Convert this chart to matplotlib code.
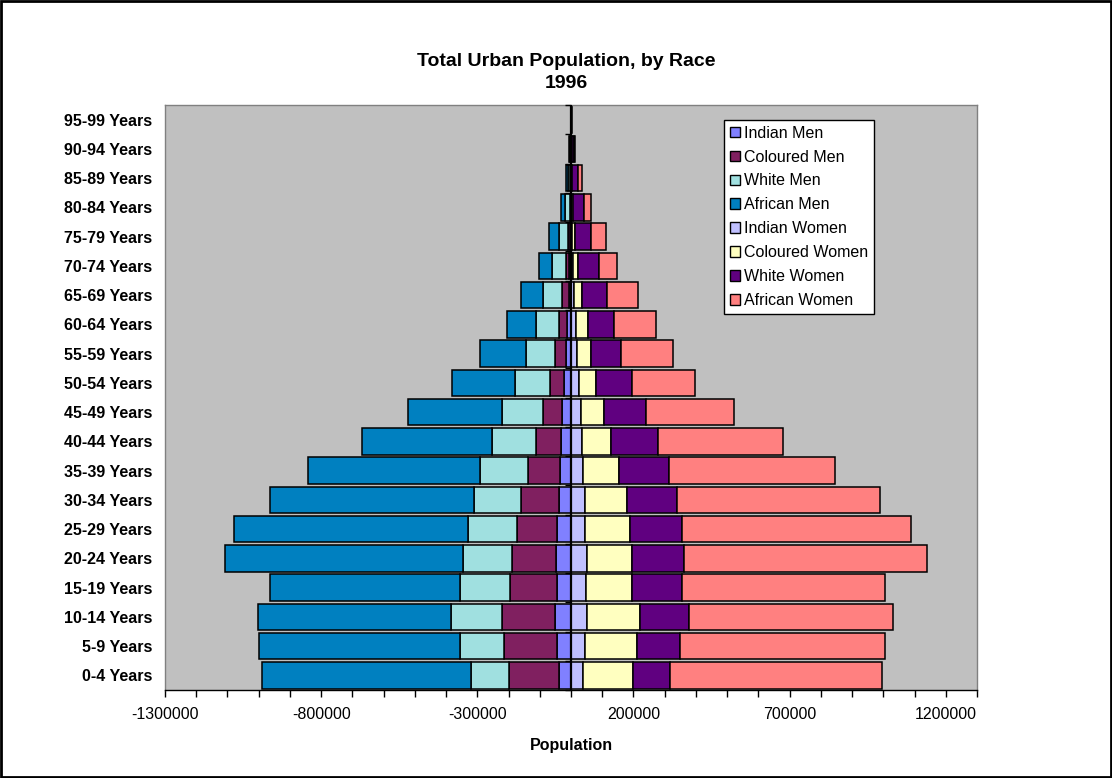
import numpy as np
import matplotlib
matplotlib.use("Agg")
import matplotlib.pyplot as plt
from matplotlib.patches import Rectangle
from matplotlib.ticker import FixedLocator, FuncFormatter

plt.rcParams['font.family'] = ['Liberation Sans', 'DejaVu Sans']

# age groups, bottom to top
ages = ["0-4 Years", "5-9 Years", "10-14 Years", "15-19 Years", "20-24 Years",
        "25-29 Years", "30-34 Years", "35-39 Years", "40-44 Years", "45-49 Years",
        "50-54 Years", "55-59 Years", "60-64 Years", "65-69 Years", "70-74 Years",
        "75-79 Years", "80-84 Years", "85-89 Years", "90-94 Years", "95-99 Years"]

# values in thousands
indian_men = [40, 46, 50, 46, 49, 44, 40, 36.5, 32, 28, 21, 15, 13, 7.5, 5, 3, 1.5, 1, 0.5, 0.2]
coloured_men = [160, 168, 170, 148, 139, 129, 119, 102.5, 81, 63, 47, 37.5, 27, 20, 10, 5.5, 3, 2, 1, 0.3]
white_men = [121, 140, 164, 160, 158, 156, 151, 151, 139, 130, 111, 92, 72, 62, 46, 30, 16, 8, 2, 0.5]
african_men = [668, 646, 619, 611, 762, 749, 653, 552, 418, 300, 201, 147, 94, 69, 43, 31, 12.5, 4, 1.5, 0.5]

indian_women = [40, 46, 51, 48, 51, 46, 44, 40, 36, 33, 27, 19, 16, 8.5, 5, 3, 1.5, 1, 0.5, 0.2]
coloured_women = [158, 165, 170, 148, 145, 144, 136, 115, 93, 73, 52, 44, 37, 27, 19, 11, 5, 2, 1.5, 0.3]
white_women = [120, 137, 157, 158, 167, 165, 158, 160, 150, 134, 116, 98, 85, 80, 66, 50, 36, 18, 8, 1]
african_women = [677, 658, 652, 652, 777, 734, 651, 529, 399, 281, 203, 164, 135, 98, 58, 49, 21, 13, 4, 1]

men = [("Indian Men", indian_men, "#8080FF"),
       ("Coloured Men", coloured_men, "#802060"),
       ("White Men", white_men, "#A0E0E0"),
       ("African Men", african_men, "#0080C0")]
women = [("Indian Women", indian_women, "#C0C0FF"),
         ("Coloured Women", coloured_women, "#FFFFC0"),
         ("White Women", white_women, "#600080"),
         ("African Women", african_women, "#FF8080")]

fig = plt.figure(figsize=(11.12, 7.78), dpi=100)
ax = fig.add_axes([165 / 1112, 1 - 690 / 778, 812 / 1112, 585 / 778])
ax.set_facecolor("#C0C0C0")

y = np.arange(len(ages))
h = 0.91

# men go left from zero
left = np.zeros(len(ages))
for name, vals, col in men:
    v = -np.array(vals) * 1000
    ax.barh(y, v, left=left, height=h, color=col, edgecolor="black", linewidth=1.1, label=name)
    left = left + v

# women go right
left = np.zeros(len(ages))
for name, vals, col in women:
    v = np.array(vals) * 1000
    ax.barh(y, v, left=left, height=h, color=col, edgecolor="black", linewidth=1.1, label=name)
    left = left + v

# category axis at zero, with tick marks between categories
ax.axvline(0, color="black", lw=1.6, zorder=5)
bounds = np.arange(len(ages) + 1) - 0.5
ax.plot(np.zeros(len(bounds)), bounds, linestyle="none", marker=0,
        markersize=4, mew=1, color="black", zorder=5, clip_on=False)

ax.set_xlim(-1300000, 1300000)
ax.set_ylim(-0.5, len(ages) - 0.5)

ax.xaxis.set_major_locator(FixedLocator(np.arange(-1300000, 1300001, 500000)))
ax.xaxis.set_minor_locator(FixedLocator(np.arange(-1300000, 1300001, 100000)))
ax.xaxis.set_major_formatter(FuncFormatter(lambda v, p: "%d" % v))
ax.tick_params(axis="x", which="both", length=5, width=1, color="black",
               labelsize=11.5, pad=7)
ax.set_yticks(y)
ax.set_yticklabels(ages, fontweight="bold", fontsize=11.5)
ax.tick_params(axis="y", length=0, pad=9)

for s in ["top", "right", "left"]:
    ax.spines[s].set_color("#808080")
    ax.spines[s].set_linewidth(1)
ax.spines["bottom"].set_color("black")
ax.spines["bottom"].set_linewidth(1)

ax.set_xlabel("Population", fontweight="bold", fontsize=11.5, labelpad=12)

fig.text(566 / 1112, 1 - 61 / 778, "Total Urban Population, by Race", ha="center", va="center",
         fontsize=14, fontweight="bold")
fig.text(566 / 1112, 1 - 84 / 778, "1996", ha="center", va="center",
         fontsize=14, fontweight="bold")

leg = ax.legend(loc="upper left", bbox_to_anchor=((724 - 165) / 812, (690 - 120) / 585),
                fontsize=11.5, frameon=True, fancybox=False, framealpha=1,
                edgecolor="black", handlelength=0.65, handleheight=0.65,
                handletextpad=0.25, labelspacing=0.56, borderpad=0.35, borderaxespad=0)
leg.get_frame().set_linewidth(1)
for p in leg.get_patches():
    p.set_linewidth(1)

# chart border
fig.patches.append(Rectangle((0.001, 0.001), 0.998, 0.998, transform=fig.transFigure,
                             fill=False, edgecolor="black", linewidth=2))

fig.savefig("out.png", dpi=100)
